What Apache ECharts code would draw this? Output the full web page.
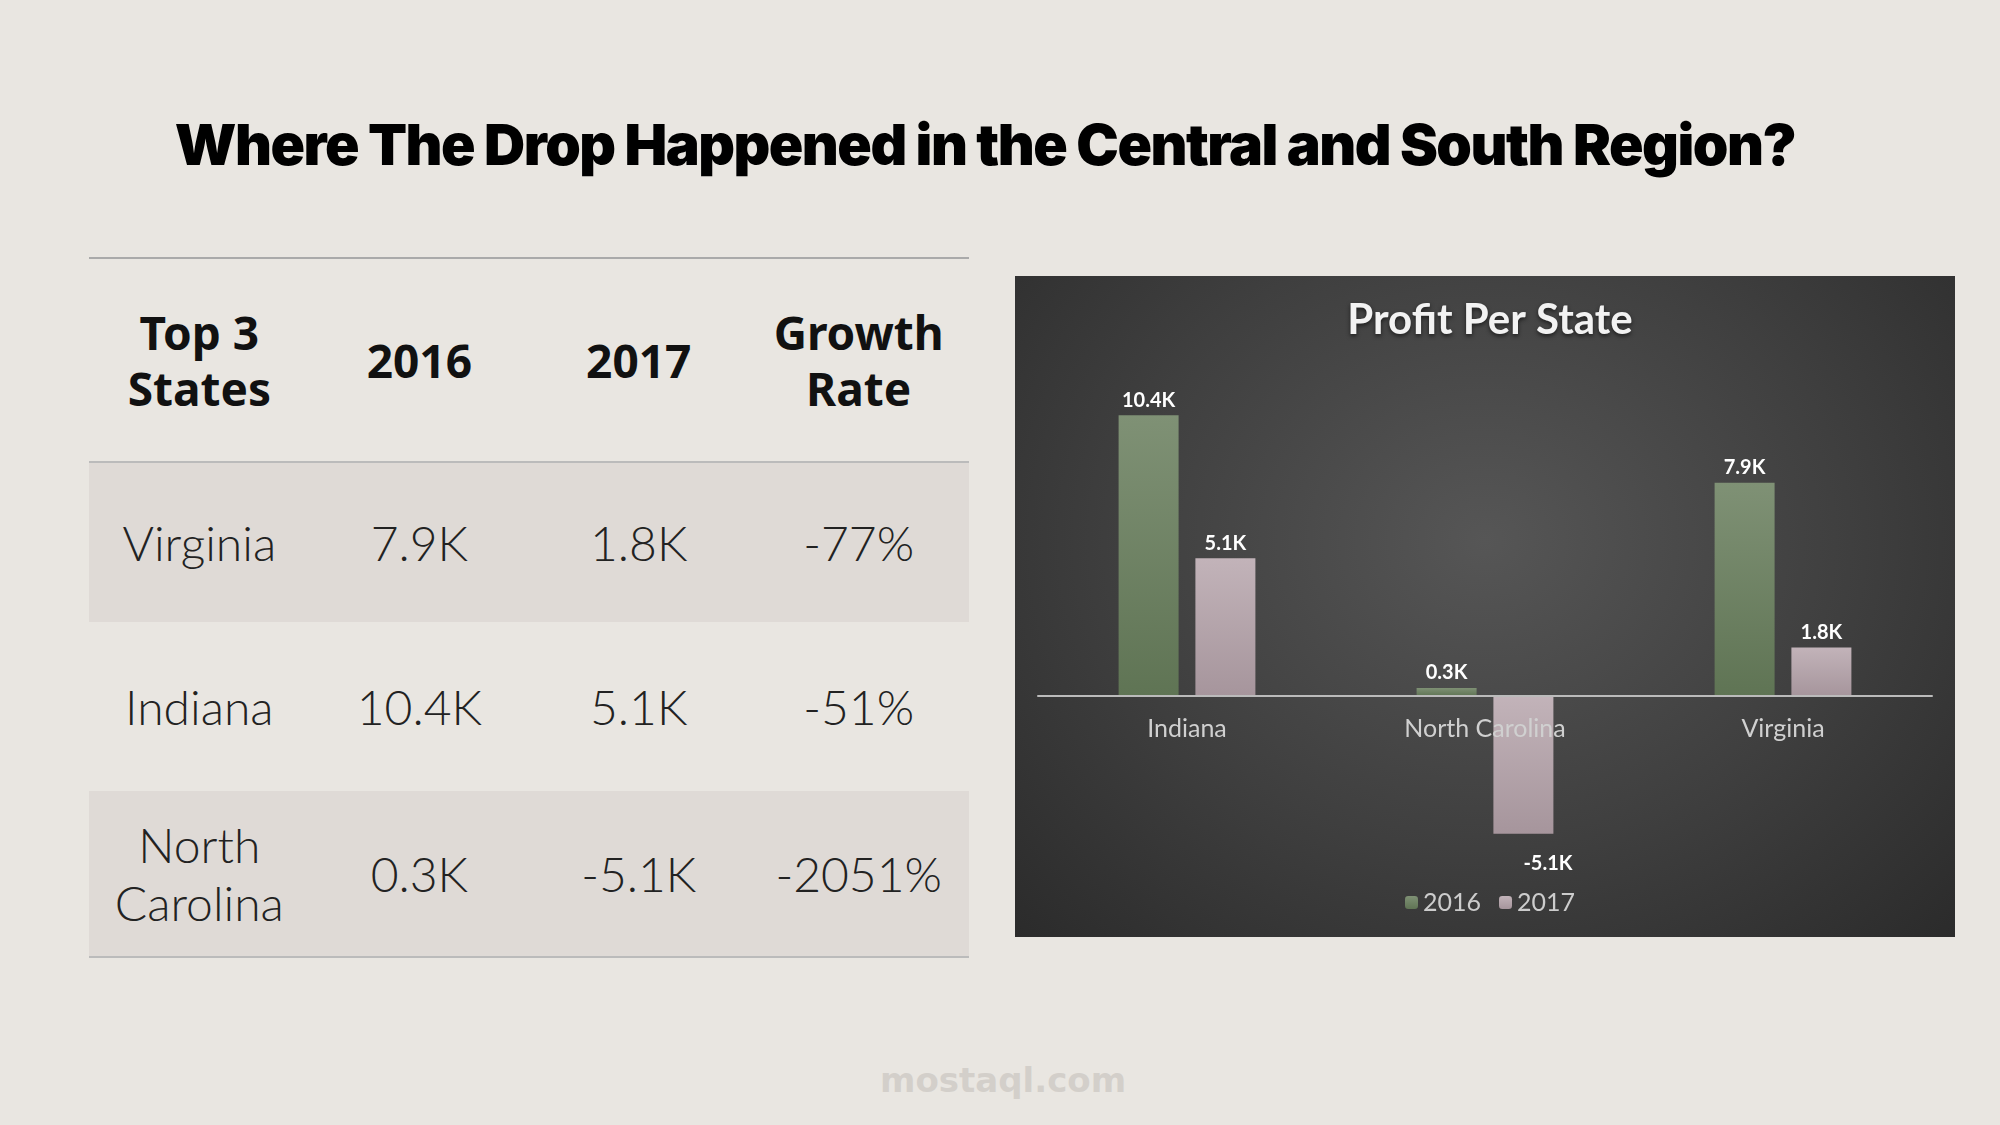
<!DOCTYPE html>
<html><head><meta charset="utf-8">
<script src="https://cdn.jsdelivr.net/npm/echarts@6/dist/echarts.min.js"></script>
<style>
html,body{margin:0;padding:0;width:2000px;height:1125px;background:#e9e6e1;overflow:hidden;font-family:Lato,"Noto Sans",sans-serif}
#title{position:absolute;left:0;width:1970px;top:110px;text-align:center;font-family:Inter;font-weight:900;font-size:57px;letter-spacing:-1.5px;color:#000}
#tbl{position:absolute;left:89px;top:257px;width:880px;border-collapse:collapse}
#tbl td{text-align:center;width:220px;color:#222}
#tbl tr.h td{height:200px;font-weight:700;font-size:46px;font-family:"Noto Sans";line-height:56px;color:#111;border-top:2px solid #aaa;border-bottom:2px solid #bbb}
#tbl tr.s td{background:#dfdad6}
#tbl tr.b td{font-size:48px;font-weight:300}
#tbl tr.last td{border-bottom:2px solid #bbb}
#panel{position:absolute;left:1015px;top:276px;width:940px;height:661px;background:radial-gradient(ellipse at 50% 40%,#565656 0%,#3f3f3f 55%,#2b2b2b 100%)}
#wm{position:absolute;left:880px;top:1060px;font-family:"DejaVu Sans";font-weight:bold;font-size:34px;color:#d3cfca}
#chart{position:absolute;left:0;top:0;width:2000px;height:1125px}
</style></head><body>
<div id="title">Where The Drop Happened in the Central and South Region?</div>
<table id="tbl">
<tr class="h"><td>Top 3<br>States</td><td>2016</td><td>2017</td><td>Growth<br>Rate</td></tr>
<tr class="b s" style="height:160px"><td>Virginia</td><td>7.9K</td><td>1.8K</td><td>-77%</td></tr>
<tr class="b" style="height:169px"><td>Indiana</td><td>10.4K</td><td>5.1K</td><td>-51%</td></tr>
<tr class="b s last" style="height:166px"><td style="line-height:58px">North<br>Carolina</td><td>0.3K</td><td>-5.1K</td><td>-2051%</td></tr>
</table>
<div id="panel"></div>
<div id="wm">mostaql.com</div>
<div id="chart"></div>
<script>
const states=["Indiana","North Carolina","Virginia"];
const profit2016=[10.4,0.3,7.9];
const profit2017=[5.1,-5.1,1.8];
const chart=echarts.init(document.getElementById('chart'));
const lbl={show:true,position:'top',color:'#fff',fontWeight:'bold',fontSize:20,fontFamily:'Lato',formatter:p=>p.value.toFixed(1)+'K'};
chart.setOption({
 title:{text:'Profit Per State',left:1485,top:294,textAlign:'center',textStyle:{color:'#f2f2f2',fontSize:42,fontWeight:'bold',fontFamily:'Lato',textShadowColor:'rgba(0,0,0,0.6)',textShadowBlur:4,textShadowOffsetY:2}},
 legend:{bottom:205,left:1400,itemWidth:13,itemHeight:13,itemGap:18,textStyle:{color:'#ccc',fontSize:25,fontFamily:'Lato'},data:['2016','2017']},
 grid:{left:1038,right:68,top:372,bottom:213},
 xAxis:{type:'category',data:states,z:5,axisLine:{onZero:true,lineStyle:{color:'#bbb',width:2}},axisTick:{show:false},axisLabel:{color:'#d0d0d0',fontSize:25,fontFamily:'Lato',margin:-196}},
 yAxis:{type:'value',min:-8,max:12,axisLine:{show:false},axisTick:{show:false},axisLabel:{show:false},splitLine:{show:false}},
 series:[
  {name:'2016',type:'bar',data:profit2016,barWidth:60,barGap:'28%',label:lbl,z:2,
   itemStyle:{color:new echarts.graphic.LinearGradient(0,0,0,1,[{offset:0,color:'#7f9175'},{offset:1,color:'#5f7454'}])}},
  {name:'2017',type:'bar',data:profit2017,barWidth:60,z:2,
   label:Object.assign({},lbl),
   labelLayout:p=>p.dataIndex===1?{y:p.rect.y+p.rect.height+20}:{},
   itemStyle:{color:new echarts.graphic.LinearGradient(0,0,0,1,[{offset:0,color:'#c2b3b9'},{offset:1,color:'#a6959c'}])}}
 ]
});
</script></body></html>
